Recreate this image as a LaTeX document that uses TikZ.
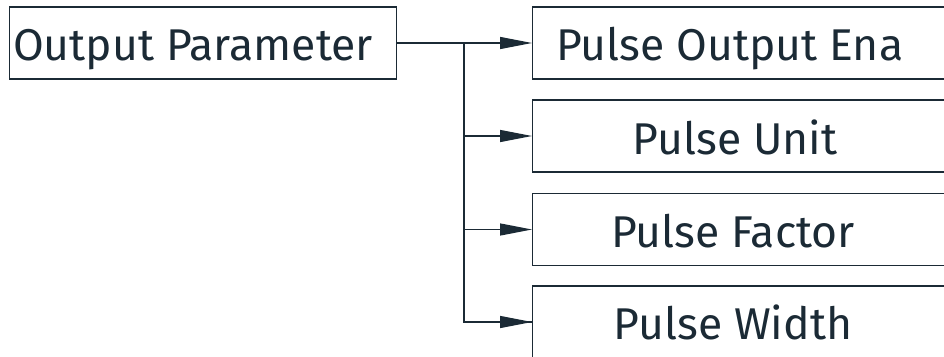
\documentclass[tikz,border=0pt]{standalone}
\usepackage{fontspec}
\setmainfont{Fira Sans}
\usetikzlibrary{arrows.meta}
\definecolor{ink}{HTML}{1B2A35}
\tikzset{
  box/.style={draw=ink, line width=1.4pt, minimum height=72pt, inner sep=0pt, anchor=west},
  lbl/.style={text=ink, font=\fontsize{44.5}{52}\selectfont, inner sep=0pt},
  conn/.style={draw=ink, line width=1.3pt},
  arr/.style={conn, -{Triangle[length=32pt, width=12pt]}},
}
\begin{document}
\begin{tikzpicture}[x=1pt, y=-1pt]
\useasboundingbox[clip] (0,0) rectangle (944,356);
\node[box, minimum width=387pt] (op) at (9,43) {};
\node[lbl, anchor=base west] (opt) at (13,60) {Output Parameter};
\node[box, minimum width=440pt] (b1) at (532,43) {};
\node[box, minimum width=440pt] (b2) at (532,136) {};
\node[box, minimum width=440pt] (b3) at (532,229.5) {};
\node[box, minimum width=440pt] (b4) at (532,322) {};
\node[lbl, anchor=base west] (t1) at (556,60.5) {Pulse Output Ena};
\node[lbl, anchor=base] (t2) at (735,154) {Pulse Unit};
\node[lbl, anchor=base] (t3) at (733,247) {Pulse Factor};
\node[lbl, anchor=base] (t4) at (733,339.5) {Pulse Width};
\coordinate (j) at (464,43);
\path[conn] (op.east) -- (j);
\path[conn] (j) |- (b4.west);
\path[arr] (j) -- (b1.west);
\path[arr] (j |- b2.west) -- (b2.west);
\path[arr] (j |- b3.west) -- (b3.west);
\path[arr] (j |- b4.west) -- (b4.west);
\end{tikzpicture}
\end{document}
